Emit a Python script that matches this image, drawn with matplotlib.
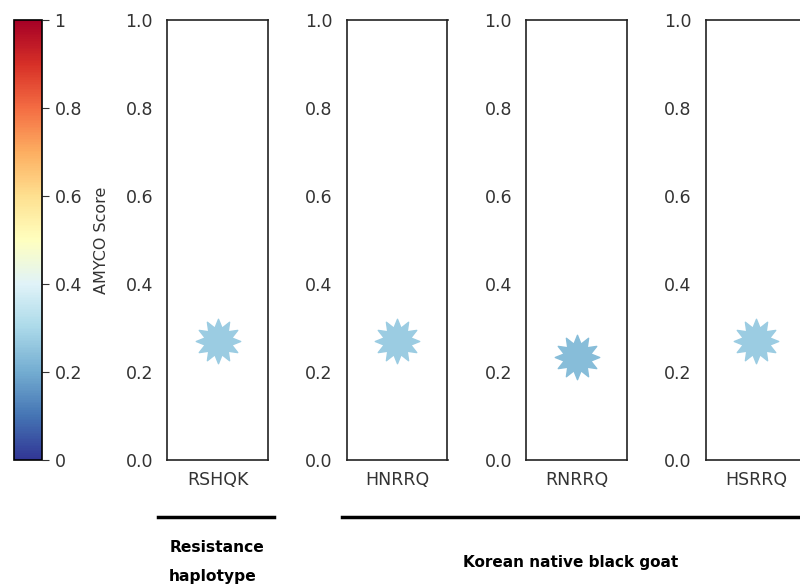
import matplotlib
matplotlib.use("Agg")
import matplotlib.pyplot as plt
from matplotlib.lines import Line2D
from matplotlib.path import Path

plt.rcParams['font.family'] = ['DejaVu Sans']

haplotypes = ["RSHQK", "HNRRQ", "RNRRQ", "HSRRQ"]
scores = [0.27, 0.27, 0.235, 0.27]
cbar_ticks = [0, 0.2, 0.4, 0.6, 0.8, 1]
cbar_labels = ["0", "0.2", "0.4", "0.6", "0.8", "1"]

W, H = 800, 587
fig = plt.figure(figsize=(W / 100, H / 100), dpi=100)
cmap = plt.get_cmap("RdYlBu_r")
norm = matplotlib.colors.Normalize(0, 1)
star = Path.unit_regular_star(12, innerCircle=0.62)


def px(x0, y0, x1, y1):
    return [x0 / W, 1 - y1 / H, (x1 - x0) / W, (y1 - y0) / H]


# colorbar
cax = fig.add_axes(px(14, 20, 42, 460))
cb = fig.colorbar(matplotlib.cm.ScalarMappable(norm=norm, cmap=cmap), cax=cax)
cb.set_ticks(cbar_ticks)
cb.set_ticklabels(cbar_labels)
cb.ax.tick_params(labelsize=12.5, length=5, pad=4, colors="#333333")
cb.outline.set_linewidth(1.2)
fig.text(101 / W, 1 - 240 / H, "AMYCO Score", rotation=90, ha="center",
         va="center", fontsize=11.5, color="#333333")

left = 167
for i, (name, s) in enumerate(zip(haplotypes, scores)):
    x0 = left + i * 179.5
    ax = fig.add_axes(px(x0, 20, x0 + 101, 460))
    ax.plot([0], [s], marker=star, markersize=32, color=cmap(norm(s)),
            linestyle="none")
    ax.set_xlim(-0.5, 0.5)
    ax.set_ylim(0, 1)
    ax.set_xticks([0])
    ax.set_xticklabels([name])
    ax.set_yticks([0, 0.2, 0.4, 0.6, 0.8, 1.0])
    ax.tick_params(length=0, labelsize=12.5, pad=8, colors="#333333")
    ax.tick_params(axis="y", pad=10)
    for sp in ax.spines.values():
        sp.set_color("#222222")
        sp.set_linewidth(1.2)

# group lines and labels
fig.add_artist(Line2D([158 / W, 274 / W], [1 - 517 / H] * 2, color="black", lw=2.5))
fig.add_artist(Line2D([342 / W, 1.0], [1 - 517 / H] * 2, color="black", lw=2.5))
fig.text(217 / W, 1 - 547 / H, "Resistance", ha="center", va="center",
         fontsize=11.2, fontweight="bold")
fig.text(213 / W, 1 - 576 / H, "haplotype", ha="center", va="center",
         fontsize=11.2, fontweight="bold")
fig.text(571 / W, 1 - 562 / H, "Korean native black goat", ha="center",
         va="center", fontsize=11, fontweight="bold")

fig.savefig("out.png", dpi=100)
